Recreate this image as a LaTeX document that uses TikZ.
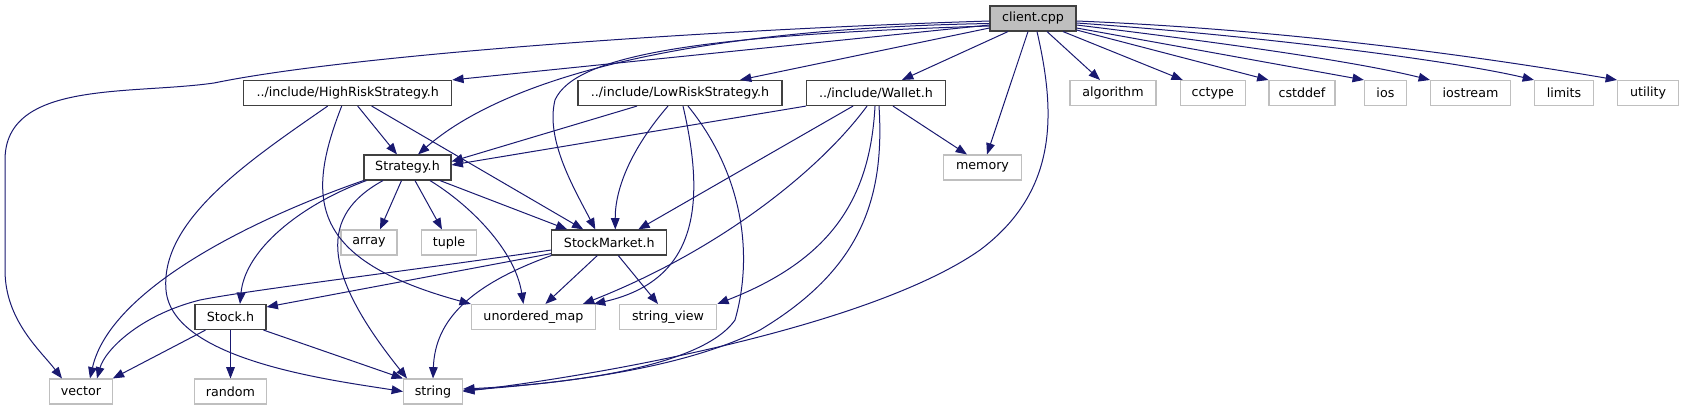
\documentclass[tikz,border=0pt]{standalone}
\usepackage{fontspec}
\setmainfont{DejaVu Sans}
\usetikzlibrary{arrows.meta,calc}
\definecolor{edgeblue}{RGB}{25,25,112}
\definecolor{nodegrey}{RGB}{191,191,191}
\definecolor{nodeline}{RGB}{64,64,64}

\begin{document}
\begin{tikzpicture}[
    x=0.75pt, y=-0.75pt,
    >={Triangle[length=8.5pt,width=6.5pt]},
    hdr/.style={
        draw=nodeline,
        line width=0.85pt,
        fill=white,
        minimum width={#1*0.75pt},
        minimum height=18.75pt,
        inner sep=0pt,
        font=\fontsize{9.5}{11}\selectfont
    },
    syshdr/.style={hdr=#1, draw=nodegrey, line width=0.8pt},
    srchdr/.style={hdr=#1, fill=nodegrey},
    inc/.style={->, edgeblue, line width=0.75pt}
]
\useasboundingbox (0,0) rectangle (1683,411);

% Files of the project.
\node[srchdr=86] (client) at (1033,18.5) {client.cpp};
\node[hdr=208] (highrisk) at (347.7,93) {../include/HighRiskStrategy.h};
\node[hdr=204] (lowrisk) at (680,93) {../include/LowRiskStrategy.h};
\node[hdr=139] (wallet) at (876,93) {../include/Wallet.h};
\node[hdr=87] (strategy) at (407.5,167.5) {Strategy.h};
\node[hdr=115] (stockmarket) at (609.3,242.5) {StockMarket.h};
\node[hdr=71] (stock) at (230.5,317) {Stock.h};

% Standard headers.
\foreach \name/\cx/\bw in {algorithm/1113/86, cctype/1212.8/65,
    cstddef/1302/66, ios/1385.4/42, iostream/1470.5/80,
    limits/1564/59, utility/1648/61}
    \node[syshdr=\bw] (\name) at (\cx,93) {\name};
\node[syshdr=78] (memory) at (982.5,167.5) {memory};
\node[syshdr=56] (array) at (369,242.5) {array};
\node[syshdr=55.5] (tuple) at (449,242.5) {tuple};
\node[syshdr=124] (umap) at (533.4,317) {unordered\_map};
\node[syshdr=97.5] (sview) at (668,317) {string\_view};
\node[syshdr=62.5] (vector) at (81,391.5) {vector};
\node[syshdr=72] (random) at (230.5,391.5) {random};
\node[syshdr=59] (string) at (433,391.5) {string};

% client.cpp
\draw[inc] ($(client.west)+(0,2.5)$) .. controls (700,30) and (350,55) .. (214,83)
    .. controls (130,95) and (5,80) .. (5,160) -- (5,270)
    .. controls (5,320) and (40,350) .. ($(vector.north)+(-19,0)$);
\draw[inc] ($(client.west)+(0,6.5)$) -- (highrisk.north east);
\draw[inc] ($(client.west)+(0,5)$) .. controls (620,30) and (480,100)
    .. ($(strategy.north)+(10.5,0)$);
\draw[inc] ($(client.west)+(0,7.5)$) .. controls (700,35) and (575,55) .. (555,100)
    .. controls (545,140) and (575,190) .. ($(stockmarket.north)+(-14,0)$);
\draw[inc] ($(client.west)+(0,9.5)$) -- ($(lowrisk.north)+(60,0)$);
\draw[inc] ($(client.south)+(-25,0)$) -- ($(wallet.north)+(26,0)$);
\draw[inc] ($(client.south)+(-5,0)$) -- ($(memory.north)+(4.5,0)$);
\draw[inc] ($(client.south)+(4,0)$) .. controls (1055,110) and (1060,190) .. (980,250)
    .. controls (880,320) and (640,370) .. (string.east);
\draw[inc] ($(client.south)+(14,0)$) -- ($(algorithm.north)+(-13,0)$);
\draw[inc] ($(client.south)+(30,0)$) -- ($(cctype.north west)+(3,0)$);
\draw[inc] ($(client.east)+(0,11.5)$) -- (cstddef.north west);
\draw[inc] ($(client.east)+(0,9.5)$) -- (ios.north west);
\draw[inc] ($(client.east)+(0,6.5)$) .. controls (1200,40) and (1350,60) .. (iostream.north west);
\draw[inc] ($(client.east)+(0,4.5)$) .. controls (1250,35) and (1450,60) .. (limits.north west);
\draw[inc] ($(client.east)+(0,2.5)$) .. controls (1300,30) and (1500,60) .. (utility.north west);

% HighRiskStrategy.h
\draw[inc] ($(highrisk.south)+(10,0)$) -- ($(strategy.north)+(-10.5,0)$);
\draw[inc] ($(highrisk.south)+(24,0)$) -- ($(stockmarket.north)+(-26,0)$);
\draw[inc] ($(highrisk.south)+(-20,0)$) .. controls (250,160) and (160,220) .. (166,290)
    .. controls (172,360) and (330,380) .. (string.west);
\draw[inc] ($(highrisk.south)+(-6,0)$) .. controls (305,200) and (310,260) .. (umap.north west);

% LowRiskStrategy.h
\draw[inc] ($(lowrisk.south)+(-43,0)$) -- ($(strategy.east)+(0,-6)$);
\draw[inc] ($(lowrisk.south)+(-12,0)$) .. controls (630,150) and (615,190)
    .. ($(stockmarket.north)+(6,0)$);
\draw[inc] ($(lowrisk.south)+(3,0)$) .. controls (705,200) and (700,280)
    .. ($(umap.north east)+(-2,0)$);
\draw[inc] ($(lowrisk.south)+(8,0)$) .. controls (740,170) and (755,250) .. (735,320)
    .. controls (700,370) and (550,385) .. ($(string.east)+(0,-2.5)$);

% Wallet.h
\draw[inc] (wallet.south west) -- ($(strategy.east)+(0,-2.5)$);
\draw[inc] ($(wallet.south)+(-23,0)$) -- ($(stockmarket.north)+(29,0)$);
\draw[inc] ($(wallet.south)+(-9,0)$) .. controls (820,170) and (720,250)
    .. ($(umap.north east)+(-13,0)$);
\draw[inc] ($(wallet.south)+(-1,0)$) .. controls (870,200) and (830,260) .. (sview.north east);
\draw[inc] ($(wallet.south)+(3,0)$) .. controls (885,200) and (860,270) .. (760,330)
    .. controls (680,370) and (560,383) .. ($(string.east)+(0,-1)$);
\draw[inc] ($(wallet.south)+(17,0)$) -- ($(memory.north)+(-15.5,0)$);

% Strategy.h
\draw[inc] (strategy.south west) .. controls (250,220) and (110,290) .. ($(vector.north)+(9,0)$);
\draw[inc] ($(strategy.south west)+(3,0)$) .. controls (300,205) and (245,250)
    .. ($(stock.north)+(9.5,0)$);
\draw[inc] ($(strategy.south)+(-24.5,0)$) .. controls (320,215) and (320,270)
    .. ($(string.north)+(-26,0)$);
\draw[inc] ($(strategy.south)+(-6,0)$) -- ($(array.north)+(11,0)$);
\draw[inc] ($(strategy.south)+(7.5,0)$) -- ($(tuple.north)+(-7,0)$);
\draw[inc] ($(strategy.south)+(22.5,0)$) .. controls (470,205) and (515,250)
    .. ($(umap.north)+(-10,0)$);
\draw[inc] ($(strategy.south)+(32.5,0)$) -- ($(stockmarket.north)+(-42,0)$);

% StockMarket.h
\draw[inc] ($(stockmarket.west)+(0,7.5)$) .. controls (400,272) and (250,290) .. (200,300)
    .. controls (140,315) and (105,350) .. ($(vector.north)+(16,0)$);
\draw[inc] ($(stockmarket.south west)+(0,-2)$) -- ($(stock.east)+(0,-10)$);
\draw[inc] ($(stockmarket.south)+(-12,0)$) -- ($(umap.north)+(12,0)$);
\draw[inc] ($(stockmarket.south)+(9,0)$) -- ($(sview.north)+(-10,0)$);
\draw[inc] (stockmarket.south west) .. controls (470,285) and (435,320) .. (string.north);

% Stock.h
\draw[inc] ($(stock.south)+(-25,0)$) -- (vector.north east);
\draw[inc] (stock) -- (random);
\draw[inc] ($(stock.south)+(33,0)$) -- (string.north west);

\end{tikzpicture}
\end{document}
